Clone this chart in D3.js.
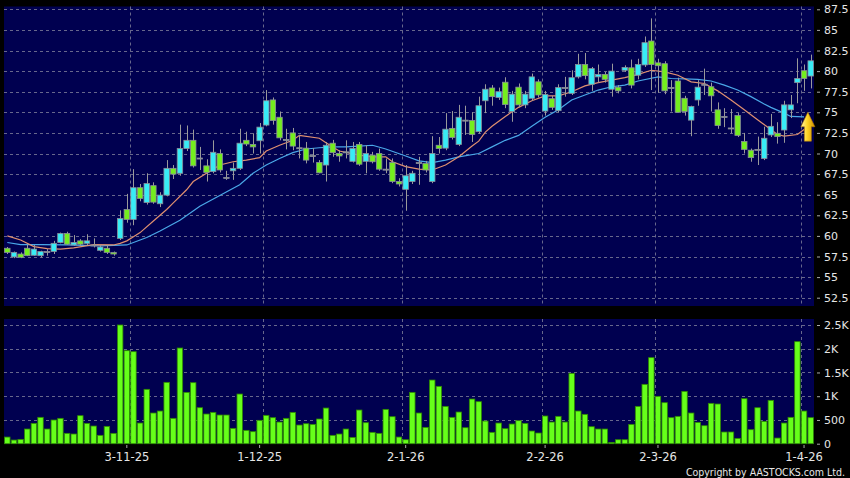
<!DOCTYPE html>
<html>
<head>
<meta charset="utf-8">
<script src="https://cdnjs.cloudflare.com/ajax/libs/d3/7.8.5/d3.min.js"></script>
<style>
  body { margin: 0; background: #000; }
  svg { display: block; }
</style>
</head>
<body>
<div id="chart"></div>
<script>
// DATA
// daily candles, index 0 = first day on the left
const opens  = [58.5,57.45,57.8,58.5,57.65,57.6,58.1,58.1,59.2,60.3, 58.9,59.4,59.1,58.9,58.25,58.5,58.0,59.7,63.2,62.0,
                65.85,64.05,66.1,63.9,64.95,68.2,67.6,70.6,71.6,69.45, 68.5,67.8,70.0,67.1,67.9,68.2,71.6,71.1,71.55,73.45,
                76.5,74.4,71.7,72.5,70.7,70.65,69.75,68.9,68.6,71.25, 70.0,70.2,69.05,71.1,69.05,69.8,70.0,68.1,68.9,66.6,
                65.65,66.6,68.9,68.8,66.6,71.0,70.65,73.05,71.1,74.05, 74.0,72.65,76.4,77.95,76.8,78.65,75.1,78.05,75.9,76.7,
                78.7,75.15,76.65,75.2,78.0,77.3,79.3,80.8,78.4,79.3, 79.6,77.8,78.05,80.1,80.4,79.5,80.75,83.65,81.0,80.9,
                78.0,78.8,76.7,74.05,76.5,78.4,78.1,75.3,74.5,73.1, 74.6,71.45,70.4,70.5,69.4,72.25,72.45,72.85,75.3,78.6,
                80.05,79.4];
const highs  = [58.65,58.1,58.0,58.9,58.9,58.2,58.4,59.4,60.4,60.5, 60.1,59.6,60.2,59.7,58.9,58.8,58.1,63.1,65.1,68.1,
                66.3,67.6,66.5,65.3,69.2,68.6,73.5,73.4,72.9,70.8, 69.3,71.6,70.5,67.9,68.9,73.0,72.65,72.45,73.7,77.7,
                76.8,75.1,73.0,73.1,72.25,71.4,70.65,69.2,71.4,71.65, 70.4,71.6,71.4,71.4,71.0,70.2,70.6,69.4,69.4,67.0,
                68.6,67.9,69.6,69.1,72.1,72.0,74.9,75.15,75.9,75.8, 75.0,76.9,78.4,78.3,78.0,79.25,77.6,78.5,77.6,79.7,
                79.0,77.6,77.0,78.4,79.3,80.1,82.1,82.2,80.5,80.8, 79.9,80.9,78.3,80.7,81.4,81.5,84.2,86.4,81.5,81.2,
                78.9,79.2,77.0,75.8,78.9,80.3,78.6,76.2,75.5,75.4, 74.9,72.5,70.6,72.05,73.25,74.8,73.8,76.4,77.1,81.55,
                80.8,82.0];
const lows   = [57.8,57.3,57.3,57.55,57.6,57.4,57.6,57.8,59.1,58.9, 58.8,58.8,58.9,58.6,58.1,57.8,57.6,59.5,61.6,61.3,
                64.2,63.8,63.9,63.5,64.8,66.9,67.3,70.3,68.3,68.0, 66.6,67.6,67.7,66.8,66.8,68.0,70.9,70.0,70.0,73.3,
                73.5,71.6,70.5,70.4,69.4,68.8,68.9,67.6,66.6,69.6, 69.0,69.4,68.9,68.5,67.6,68.8,67.9,67.6,66.4,66.0,
                63.05,66.3,66.2,67.7,66.4,70.0,70.4,71.7,70.9,72.25, 71.4,72.4,74.9,75.8,76.5,75.5,73.85,75.6,75.5,76.4,
                76.8,74.6,75.3,75.0,76.9,77.1,79.1,79.0,77.6,78.6, 78.6,76.9,77.3,79.9,77.9,79.0,80.5,77.7,77.4,77.2,
                75.1,75.1,74.6,72.1,75.8,77.1,75.1,73.0,73.2,72.45, 72.0,70.0,69.0,68.6,69.2,72.0,71.2,71.3,74.3,76.1,
                77.6,77.9];
const closes = [58.0,58.0,57.4,57.6,58.4,58.1,58.1,59.1,60.3,59.0, 59.2,59.0,59.4,58.85,58.65,58.0,57.8,62.1,62.0,65.85,
                64.55,66.35,64.1,64.95,68.2,67.5,70.6,71.6,68.5,69.45, 67.7,70.15,68.0,67.1,68.2,71.25,71.15,70.8,73.2,76.4,
                74.0,71.9,71.7,70.9,70.7,69.2,69.75,67.65,71.0,70.1, 69.7,70.2,70.6,68.7,70.0,69.0,68.1,68.1,66.6,66.3,
                67.3,67.6,68.9,68.0,70.0,70.6,72.95,71.95,74.4,74.05, 72.3,75.8,77.8,76.9,77.5,75.95,77.2,75.9,77.2,79.3,
                77.1,77.15,75.6,78.0,78.0,79.2,80.8,79.45,80.3,79.6, 79.0,80.0,77.6,80.45,78.3,80.8,83.45,80.8,80.65,77.6,
                78.0,75.0,75.1,75.7,78.05,78.4,77.0,73.4,74.5,73.1, 72.2,70.5,69.5,70.5,71.85,73.3,72.05,75.9,75.9,79.1,
                79.1,81.25];
const volumes = [140,77,91,309,428,555,309,499,534,218, 204,590,428,372,176,365,218,2500,1959,1938,
                 435,1145,646,688,1292,534,2015,1081,1285,758, 625,660,604,604,323,1046,281,253,492,597,
                 548,456,534,660,393,421,407,520,751,176, 204,309,133,709,442,239,218,723,569,140,
                 84,1081,646,344,1341,1208,786,555,667,337, 941,885,477,239,435,316,414,485,428,267,
                 225,583,456,576,456,1482,688,618,358,309, 309,28,84,84,407,786,1250,1812,997,864,
                 548,576,1102,646,449,379,850,836,246,246, 112,948,295,758,470,913,119,435,555,2149,
                 688,548];

// moving averages, read at these day indexes
const maShortIdx = [0,2,4,6,8,10,13,16,17,18,19,20,22,24,25,27,28,30,32,34,36,38,39,41,43,44,47,48,50,53,55,57,58,60,62,
                    64,66,68,70,71,72,73,75,77,79,81,83,85,87,89,91,93,95,97,99,101,103,105,107,109,111,113,115,116,117,119,120];
const maShortVal = [60.0,59.5,58.7,58.45,58.4,58.55,58.95,58.9,59.1,59.4,59.9,60.4,61.8,63.2,64.0,65.6,66.6,67.6,68.6,69.0,69.2,69.5,70.3,71.0,71.6,72.2,71.85,71.3,70.3,69.8,69.6,69.6,69.0,68.4,68.1,
                    68.0,68.6,69.6,70.9,71.5,72.6,73.3,74.5,75.6,76.4,77.0,77.0,77.5,78.2,78.6,78.9,79.2,79.6,80.1,79.9,79.5,78.7,78.5,77.6,76.5,75.3,74.1,72.9,72.3,72.1,72.3,72.9];
const maLongIdx  = [0,2,5,9,14,18,20,21,23,26,29,32,35,37,39,41,43,45,47,49,51,53,55,57,60,62,
                    64,66,68,71,73,75,77,79,81,83,85,87,89,91,93,95,98,100,102,104,106,108,110,112,114,115,117,118,120];
const maLongVal  = [59.2,58.95,58.95,58.9,58.8,58.9,59.5,59.8,60.6,61.9,63.6,64.9,66.2,67.6,68.6,69.4,70.1,70.55,70.7,70.8,70.8,70.9,71.0,70.55,69.7,69.1,
                    68.9,69.2,69.6,70.0,70.8,71.6,72.2,73.3,74.4,75.3,76.5,77.1,77.7,78.1,78.3,78.8,79.3,79.1,79.05,79.0,78.8,78.3,77.7,76.9,76.0,75.6,74.9,74.5,74.45];

// axis labels
const dateTickIdx = [18, 38, 60, 81, 98, 120];
const dateTickLabels = ["3-11-25", "1-12-25", "2-1-26", "2-2-26", "2-3-26", "1-4-26"];
const monthStartIdx = [19, 39, 60, 81, 98, 120];   // vertical grid sits on the left edge of these days
const priceTicks = [52.5, 55, 57.5, 60, 62.5, 65, 67.5, 70, 72.5, 75, 77.5, 80, 82.5, 85, 87.5];
const volTicks = [0, 500, 1000, 1500, 2000, 2500];
const volTickLabels = ["0", "500", "1K", "1.5K", "2K", "2.5K"];
// signal arrow (price span of the marker)
const arrowTop = 75.0, arrowBottom = 71.5;

// LAYOUT
const W = 850, H = 478;
const plotL = 4, plotR = 814;
const priceTop = 6.5, priceBot = 306;
const volTop = 319, volBot = 444;

const svg = d3.select("#chart").append("svg")
    .attr("width", W).attr("height", H)
    .style("background", "#000");

const days = d3.range(opens.length);

// SCALES
const x = d3.scaleBand().domain(days).range([plotL, plotR]).paddingInner(0.18).paddingOuter(0.09);
const bw = x.bandwidth();
const gap = x.step() - bw;
const cx = i => x(i) + bw / 2;
const yP = d3.scaleLinear().domain([52.5, 87.5]).range([297.7, 9.3]);
const yV = d3.scaleLinear().domain([0, 2500]).range([443.7, 325]);

// panels
svg.append("rect").attr("x", plotL).attr("y", priceTop)
    .attr("width", plotR - plotL).attr("height", priceBot - priceTop).attr("fill", "#000050");
svg.append("rect").attr("x", plotL).attr("y", volTop)
    .attr("width", plotR - plotL).attr("height", volBot - volTop).attr("fill", "#000050");

// GRID
const grid = svg.append("g").attr("stroke", "#67678c").attr("stroke-width", 1)
    .attr("stroke-dasharray", "3,3").attr("fill", "none");
grid.selectAll("line.hp").data(priceTicks).enter().append("line")
    .attr("x1", plotL).attr("x2", plotR)
    .attr("y1", d => Math.round(yP(d)) + 0.5).attr("y2", d => Math.round(yP(d)) + 0.5);
grid.selectAll("line.hv").data(volTicks.slice(1)).enter().append("line")
    .attr("x1", plotL).attr("x2", plotR)
    .attr("y1", d => Math.round(yV(d)) + 0.5).attr("y2", d => Math.round(yV(d)) + 0.5);
const gx = i => Math.round(x(i) - gap / 2) + 0.5;
grid.selectAll("line.vp").data(monthStartIdx).enter().append("line")
    .attr("x1", gx).attr("x2", gx)
    .attr("y1", priceTop).attr("y2", priceBot);
grid.selectAll("line.vv").data(monthStartIdx).enter().append("line")
    .attr("x1", gx).attr("x2", gx)
    .attr("y1", volTop).attr("y2", volBot);

// MOVING AVERAGES
const maLine = d3.line().x(d => cx(d[0])).y(d => yP(d[1]));
svg.append("path").datum(d3.zip(maLongIdx, maLongVal))
    .attr("d", maLine).attr("fill", "none").attr("stroke", "#4aa8e8").attr("stroke-width", 1.2);
svg.append("path").datum(d3.zip(maShortIdx, maShortVal))
    .attr("d", maLine).attr("fill", "none").attr("stroke", "#e09070").attr("stroke-width", 1.2);

// CANDLES
const upCol = "#38ecf6", downCol = "#74ee1e";
const candles = svg.append("g").selectAll("g").data(days).enter().append("g");
candles.append("line")
    .attr("x1", i => Math.round(cx(i)) + 0.5).attr("x2", i => Math.round(cx(i)) + 0.5)
    .attr("y1", i => yP(highs[i])).attr("y2", i => yP(lows[i]))
    .attr("stroke", "#9a9a9a").attr("stroke-width", 1);
candles.append("rect")
    .attr("x", i => x(i))
    .attr("width", bw)
    .attr("y", i => yP(Math.max(opens[i], closes[i])))
    .attr("height", i => Math.max(1, Math.abs(yP(opens[i]) - yP(closes[i]))))
    .attr("fill", i => Math.abs(opens[i] - closes[i]) < 0.05 ? "#9a9a9a" : (closes[i] > opens[i] ? upCol : downCol))
    .attr("stroke", "#8a8f99").attr("stroke-width", 0.8);

// arrow marker
const ax = (cx(days.length - 2) + cx(days.length - 1)) / 2 + 0.5;
const aT = yP(arrowTop), aB = yP(arrowBottom), aM = aT + (aB - aT) * 0.5;
const grad = svg.append("defs").append("linearGradient").attr("id", "gold")
    .attr("x1", 0).attr("x2", 1).attr("y1", 0).attr("y2", 0);
grad.append("stop").attr("offset", "0%").attr("stop-color", "#fff6b0");
grad.append("stop").attr("offset", "45%").attr("stop-color", "#ffd626");
grad.append("stop").attr("offset", "100%").attr("stop-color", "#d08e00");
svg.append("path")
    .attr("d", d3.line()([[ax, aT], [ax + 7, aM], [ax + 3.5, aM], [ax + 3.5, aB], [ax - 3.5, aB], [ax - 3.5, aM], [ax - 7, aM]]) + "Z")
    .attr("fill", "url(#gold)").attr("stroke", "#b07a00").attr("stroke-width", 0.6);

// VOLUME
svg.append("g").selectAll("rect").data(days).enter().append("rect")
    .attr("x", i => x(i)).attr("width", bw)
    .attr("y", i => yV(volumes[i]))
    .attr("height", i => yV(0) - yV(volumes[i]))
    .attr("fill", "#66ff1a").attr("stroke", "#2f8a00").attr("stroke-width", 0.8);

// AXES
const font = "DejaVu Sans, Verdana, sans-serif";
const pAxis = svg.append("g").attr("transform", `translate(${plotR + 3},0)`)
    .call(d3.axisRight(yP).tickValues(priceTicks).tickSize(3).tickPadding(4).tickFormat(d3.format("~g")));
const vAxis = svg.append("g").attr("transform", `translate(${plotR + 3},0)`)
    .call(d3.axisRight(yV).tickValues(volTicks).tickSize(3).tickPadding(4).tickFormat((d, k) => volTickLabels[k]));
const xAxis = svg.append("g").attr("transform", `translate(0,${volBot + 1})`)
    .call(d3.axisBottom(x).tickValues(dateTickIdx).tickSize(3).tickPadding(5).tickFormat((d, k) => dateTickLabels[k]));
[pAxis, vAxis, xAxis].forEach(a => {
  a.select(".domain").remove();
  a.selectAll(".tick line").attr("stroke", "#aaa");
  a.selectAll(".tick text").attr("fill", "#e6e6e6").attr("font-family", font).attr("font-size", 11);
});
xAxis.selectAll(".tick text").attr("font-size", 11.5);

svg.append("text").attr("x", 845).attr("y", 476).attr("text-anchor", "end")
    .attr("fill", "#e6e6e6").attr("font-family", "DejaVu Sans Condensed, DejaVu Sans, sans-serif").attr("font-size", 10.5)
    .text("Copyright by AASTOCKS.com Ltd.");
</script>
</body>
</html>
